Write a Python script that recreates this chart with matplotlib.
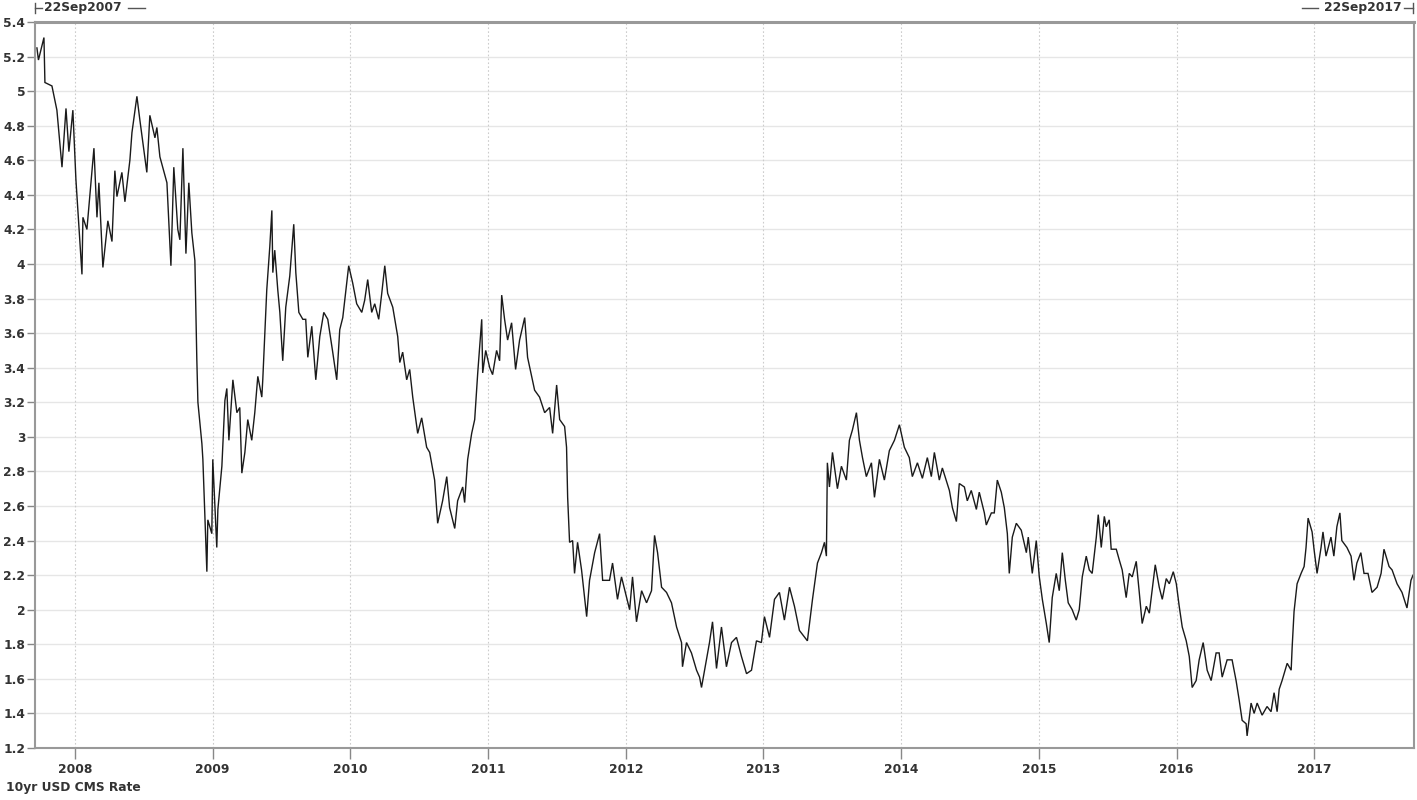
import matplotlib
matplotlib.use("Agg")
import matplotlib.pyplot as plt
from matplotlib.lines import Line2D
import numpy as np

# ---- data (decimal year, 10yr USD CMS rate %) ----
t = [2007.724, 2007.735, 2007.775, 2007.782, 2007.833, 2007.869, 2007.906, 2007.935, 2007.956, 2007.985,
     2008.007, 2008.051, 2008.058, 2008.087, 2008.138, 2008.160, 2008.174, 2008.203, 2008.239, 2008.269,
     2008.290, 2008.305, 2008.341, 2008.363, 2008.399, 2008.414, 2008.450, 2008.472, 2008.522, 2008.544,
     2008.581, 2008.595, 2008.617, 2008.668, 2008.697, 2008.718, 2008.747, 2008.762, 2008.784, 2008.806,
     2008.827, 2008.849, 2008.871, 2008.885, 2008.893, 2008.922, 2008.929, 2008.958, 2008.965, 2008.994,
     2009.001, 2009.030, 2009.038, 2009.067, 2009.089, 2009.103, 2009.118, 2009.147, 2009.176, 2009.197,
     2009.212, 2009.234, 2009.255, 2009.284, 2009.306, 2009.328, 2009.357, 2009.364, 2009.393, 2009.415,
     2009.430, 2009.437, 2009.451, 2009.473, 2009.488, 2009.509, 2009.531, 2009.560, 2009.589, 2009.604,
     2009.626, 2009.655, 2009.676, 2009.691, 2009.720, 2009.749, 2009.778, 2009.807, 2009.836, 2009.872,
     2009.901, 2009.923, 2009.945, 2009.974, 2009.988, 2010.017, 2010.046, 2010.083, 2010.104, 2010.126,
     2010.155, 2010.177, 2010.206, 2010.228, 2010.250, 2010.271, 2010.308, 2010.344, 2010.359, 2010.380,
     2010.409, 2010.431, 2010.453, 2010.489, 2010.518, 2010.554, 2010.576, 2010.612, 2010.634, 2010.670,
     2010.700, 2010.721, 2010.758, 2010.779, 2010.816, 2010.830, 2010.852, 2010.881, 2010.903, 2010.925,
     2010.954, 2010.961, 2010.983, 2011.012, 2011.033, 2011.062, 2011.084, 2011.099, 2011.120, 2011.142,
     2011.171, 2011.200, 2011.229, 2011.266, 2011.287, 2011.338, 2011.374, 2011.411, 2011.447, 2011.469,
     2011.498, 2011.520, 2011.556, 2011.570, 2011.578, 2011.592, 2011.614, 2011.628, 2011.650, 2011.679,
     2011.716, 2011.737, 2011.774, 2011.810, 2011.832, 2011.882, 2011.904, 2011.940, 2011.969, 2012.006,
     2012.028, 2012.049, 2012.078, 2012.115, 2012.151, 2012.187, 2012.209, 2012.231, 2012.260, 2012.296,
     2012.332, 2012.369, 2012.405, 2012.412, 2012.441, 2012.477, 2012.514, 2012.536, 2012.550, 2012.586,
     2012.608, 2012.630, 2012.659, 2012.695, 2012.731, 2012.768, 2012.804, 2012.840, 2012.877, 2012.913,
     2012.949, 2012.985, 2013.007, 2013.044, 2013.080, 2013.116, 2013.152, 2013.189, 2013.225, 2013.261,
     2013.319, 2013.356, 2013.392, 2013.421, 2013.443, 2013.457, 2013.464, 2013.479, 2013.501, 2013.537,
     2013.566, 2013.602, 2013.624, 2013.646, 2013.675, 2013.697, 2013.719, 2013.747, 2013.784, 2013.806,
     2013.842, 2013.878, 2013.914, 2013.951, 2013.987, 2014.023, 2014.059, 2014.081, 2014.118, 2014.154,
     2014.190, 2014.219, 2014.241, 2014.277, 2014.299, 2014.350, 2014.372, 2014.401, 2014.422, 2014.459,
     2014.480, 2014.509, 2014.546, 2014.567, 2014.604, 2014.618, 2014.655, 2014.676, 2014.698, 2014.727,
     2014.749, 2014.771, 2014.785, 2014.807, 2014.836, 2014.872, 2014.909, 2014.923, 2014.952, 2014.981,
     2015.003, 2015.025, 2015.054, 2015.075, 2015.097, 2015.126, 2015.148, 2015.170, 2015.192, 2015.213,
     2015.242, 2015.271, 2015.293, 2015.315, 2015.344, 2015.366, 2015.387, 2015.417, 2015.431, 2015.453,
     2015.475, 2015.489, 2015.511, 2015.525, 2015.562, 2015.583, 2015.605, 2015.634, 2015.656, 2015.678,
     2015.707, 2015.729, 2015.750, 2015.780, 2015.802, 2015.845, 2015.874, 2015.896, 2015.925, 2015.947,
     2015.976, 2015.998, 2016.019, 2016.041, 2016.070, 2016.092, 2016.113, 2016.142, 2016.164, 2016.193,
     2016.222, 2016.251, 2016.287, 2016.309, 2016.331, 2016.367, 2016.403, 2016.432, 2016.454, 2016.476,
     2016.505, 2016.512, 2016.541, 2016.563, 2016.585, 2016.621, 2016.657, 2016.686, 2016.708, 2016.730,
     2016.745, 2016.766, 2016.803, 2016.832, 2016.839, 2016.853, 2016.875, 2016.904, 2016.926, 2016.940,
     2016.955, 2016.984, 2016.998, 2017.020, 2017.049, 2017.063, 2017.085, 2017.121, 2017.142, 2017.164,
     2017.186, 2017.200, 2017.237, 2017.267, 2017.288, 2017.309, 2017.338, 2017.361, 2017.390, 2017.419,
     2017.456, 2017.485, 2017.506, 2017.543, 2017.565, 2017.601, 2017.637, 2017.673, 2017.702, 2017.717]

rate = [5.25, 5.18, 5.31, 5.05, 5.03, 4.89, 4.56, 4.90, 4.65, 4.89,
        4.49, 3.94, 4.27, 4.20, 4.67, 4.27, 4.47, 3.98, 4.25, 4.13,
        4.54, 4.39, 4.53, 4.36, 4.60, 4.76, 4.97, 4.83, 4.53, 4.86,
        4.73, 4.79, 4.62, 4.47, 3.99, 4.56, 4.20, 4.14, 4.67, 4.06,
        4.47, 4.18, 4.02, 3.45, 3.20, 2.96, 2.87, 2.22, 2.52, 2.44,
        2.87, 2.36, 2.58, 2.83, 3.21, 3.28, 2.98, 3.33, 3.14, 3.17,
        2.79, 2.91, 3.10, 2.98, 3.14, 3.35, 3.23, 3.33, 3.85, 4.10,
        4.31, 3.95, 4.08, 3.85, 3.72, 3.44, 3.75, 3.93, 4.23, 3.95,
        3.72, 3.68, 3.68, 3.46, 3.64, 3.33, 3.58, 3.72, 3.68, 3.49,
        3.33, 3.62, 3.69, 3.89, 3.99, 3.89, 3.77, 3.72, 3.79, 3.91,
        3.72, 3.77, 3.68, 3.83, 3.99, 3.83, 3.75, 3.58, 3.43, 3.49,
        3.33, 3.39, 3.23, 3.02, 3.11, 2.94, 2.91, 2.75, 2.50, 2.63,
        2.77, 2.59, 2.47, 2.63, 2.71, 2.62, 2.87, 3.02, 3.10, 3.37,
        3.68, 3.37, 3.50, 3.40, 3.36, 3.50, 3.44, 3.82, 3.68, 3.56,
        3.66, 3.39, 3.56, 3.69, 3.46, 3.27, 3.23, 3.14, 3.17, 3.02,
        3.30, 3.10, 3.06, 2.94, 2.65, 2.39, 2.40, 2.21, 2.39, 2.23,
        1.96, 2.17, 2.33, 2.44, 2.17, 2.17, 2.27, 2.06, 2.19, 2.07,
        2.00, 2.19, 1.93, 2.11, 2.04, 2.11, 2.43, 2.33, 2.13, 2.10,
        2.04, 1.90, 1.81, 1.67, 1.81, 1.75, 1.65, 1.61, 1.55, 1.71,
        1.81, 1.93, 1.66, 1.90, 1.67, 1.81, 1.84, 1.73, 1.63, 1.65,
        1.82, 1.81, 1.96, 1.84, 2.06, 2.10, 1.94, 2.13, 2.02, 1.88,
        1.82, 2.06, 2.27, 2.33, 2.39, 2.31, 2.85, 2.71, 2.91, 2.70,
        2.83, 2.75, 2.98, 3.04, 3.14, 2.98, 2.88, 2.77, 2.85, 2.65,
        2.87, 2.75, 2.92, 2.98, 3.07, 2.94, 2.88, 2.77, 2.85, 2.76,
        2.88, 2.77, 2.91, 2.75, 2.82, 2.69, 2.59, 2.51, 2.73, 2.71,
        2.63, 2.69, 2.58, 2.68, 2.56, 2.49, 2.56, 2.56, 2.75, 2.68,
        2.59, 2.44, 2.21, 2.42, 2.50, 2.46, 2.33, 2.42, 2.21, 2.40,
        2.19, 2.06, 1.92, 1.81, 2.07, 2.21, 2.11, 2.33, 2.17, 2.04,
        2.00, 1.94, 2.00, 2.19, 2.31, 2.23, 2.21, 2.42, 2.55, 2.36,
        2.54, 2.48, 2.52, 2.35, 2.35, 2.29, 2.23, 2.07, 2.21, 2.19,
        2.28, 2.10, 1.92, 2.02, 1.98, 2.26, 2.13, 2.06, 2.18, 2.15,
        2.22, 2.15, 2.02, 1.90, 1.82, 1.73, 1.55, 1.59, 1.71, 1.81,
        1.65, 1.59, 1.75, 1.75, 1.61, 1.71, 1.71, 1.59, 1.48, 1.36,
        1.34, 1.27, 1.46, 1.40, 1.46, 1.39, 1.44, 1.41, 1.52, 1.41,
        1.54, 1.59, 1.69, 1.65, 1.78, 1.99, 2.15, 2.21, 2.25, 2.36,
        2.53, 2.45, 2.35, 2.21, 2.36, 2.45, 2.31, 2.42, 2.31, 2.48,
        2.56, 2.40, 2.36, 2.31, 2.17, 2.27, 2.33, 2.21, 2.21, 2.10,
        2.13, 2.21, 2.35, 2.25, 2.23, 2.15, 2.10, 2.01, 2.17, 2.20]

years = [2008, 2009, 2010, 2011, 2012, 2013, 2014, 2015, 2016, 2017]
year_labels = ["2008", "2009", "2010", "2011", "2012", "2013", "2014", "2015", "2016", "2017"]
y_ticks = [1.2, 1.4, 1.6, 1.8, 2.0, 2.2, 2.4, 2.6, 2.8, 3.0, 3.2, 3.4, 3.6, 3.8,
           4.0, 4.2, 4.4, 4.6, 4.8, 5.0, 5.2, 5.4]
start_label = "22Sep2007"
end_label = "22Sep2017"
series_name = "10yr USD CMS Rate"

# ---- figure ----
W, H = 1417, 800
fig = plt.figure(figsize=(W / 100, H / 100), dpi=100)
fig.patch.set_facecolor("white")
L, R, T, B = 35, 1414, 22, 748
ax = fig.add_axes([L / W, 1 - B / H, (R - L) / W, (B - T) / H])

txt_color = "#333333"
font = dict(family="DejaVu Sans", weight="bold", size=8.8, color=txt_color)

ax.plot(t, rate, color="#1a1a1a", lw=1.0, solid_joinstyle="miter")

ax.set_xlim(2007.71, 2017.724)
ax.set_ylim(1.2, 5.4)

ax.set_yticks(y_ticks)
ax.set_yticklabels(["%g" % v for v in y_ticks], fontdict=font)
ax.set_xticks(years)
ax.set_xticklabels(year_labels, fontdict=font)

ax.tick_params(axis="y", direction="out", length=6, width=1, color="#888888", pad=1)
ax.tick_params(axis="x", direction="out", length=8, width=1, color="#888888", pad=3)

# grid
ax.set_axisbelow(True)
for v in y_ticks:
    ax.axhline(v, color="#e6e6e6", lw=1.0, zorder=0)
for yr in years:
    ax.axvline(yr, color="#cccccc", lw=0.8, ls=(0, (1.5, 2)), zorder=0)

for side in ["left", "bottom", "right", "top"]:
    ax.spines[side].set_color("#999999")
    ax.spines[side].set_linewidth(1.5)
ax.spines["top"].set_linewidth(2.2)

# top range annotations
def fx(px):
    return px / W

def fy(py):
    return 1 - py / H

ytop = 8
gray = "#555555"
# left marker
fig.add_artist(Line2D([fx(35), fx(35)], [fy(3), fy(13)], color=gray, lw=1.0))
fig.add_artist(Line2D([fx(35), fx(42)], [fy(ytop), fy(ytop)], color=gray, lw=1.0))
fig.text(fx(44), fy(ytop), start_label, ha="left", va="center", **font)
fig.add_artist(Line2D([fx(128), fx(145)], [fy(ytop), fy(ytop)], color=gray, lw=1.0))
# right marker
fig.add_artist(Line2D([fx(1302), fx(1318)], [fy(ytop), fy(ytop)], color=gray, lw=1.0))
fig.text(fx(1402), fy(ytop), end_label, ha="right", va="center", **font)
fig.add_artist(Line2D([fx(1404), fx(1413)], [fy(ytop), fy(ytop)], color=gray, lw=1.0))
fig.add_artist(Line2D([fx(1413), fx(1413)], [fy(3), fy(13)], color=gray, lw=1.0))

# series name bottom-left
fig.text(fx(6), fy(788), series_name, ha="left", va="center", **font)

fig.savefig("out.png", dpi=100, facecolor="white")
